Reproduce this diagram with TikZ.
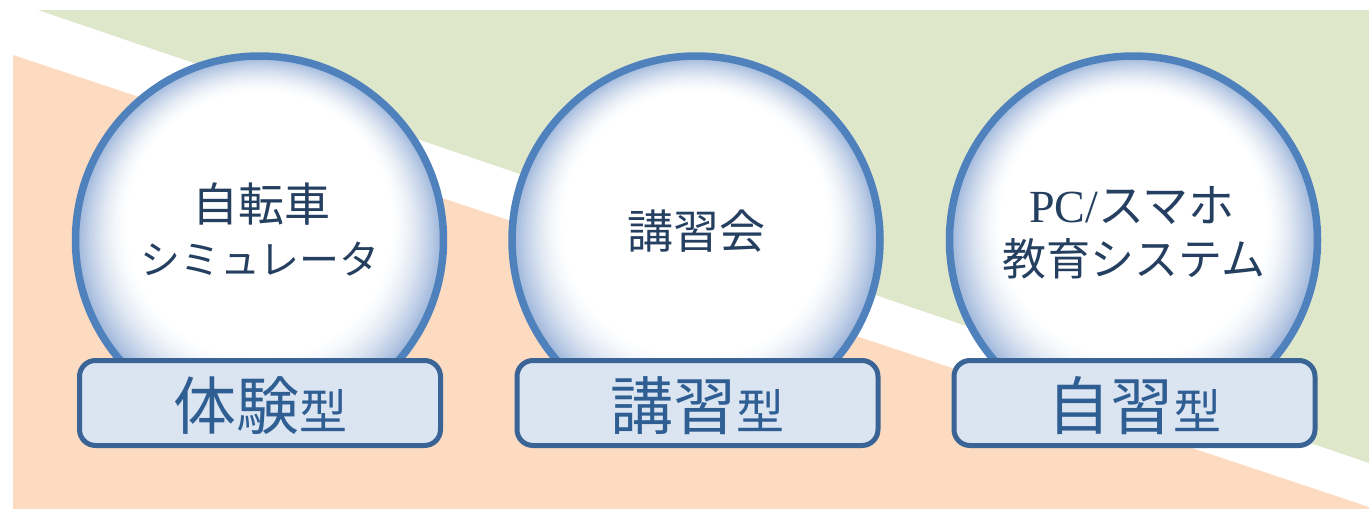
\documentclass[tikz,border=0pt]{standalone}
\usepackage{fontspec}
\setmainfont{Liberation Serif}
\newfontfamily\jp{Noto Sans CJK JP}
\definecolor{bggreen}{HTML}{DFE7CB}
\definecolor{bgorange}{HTML}{FCDBC0}
\definecolor{ringblue}{HTML}{4F81BD}
\definecolor{ringin}{HTML}{9AB3D9}
\definecolor{boxline}{HTML}{3A6496}
\definecolor{boxfill}{HTML}{DBE4F1}
\definecolor{navy}{HTML}{243F60}
\definecolor{labelblue}{HTML}{2F5E93}
\begin{document}
\begin{tikzpicture}[x=1pt,y=-1pt,
  ball/.style={circle, draw=ringblue, line width=7.5pt, minimum size=368pt, inner sep=0pt},
  tag/.style={draw=boxline, line width=5pt, fill=boxfill, rounded corners=16pt, minimum width=361pt, minimum height=85pt, inner sep=0pt},
  balltext/.style={text=navy, font=\jp\fontsize{46}{55}\selectfont, align=center, inner sep=0pt},
  tagtext/.style={text=labelblue, font=\jp\fontsize{63}{64}\selectfont, inner sep=0pt}]
\useasboundingbox (0,0) rectangle (1369,509);
\fill[bggreen] (38,10) -- (1369,10) -- (1369,463) -- cycle;
\fill[bgorange] (13,55) -- (1369,507) -- (1369,509) -- (13,509) -- cycle;

% gradient fill inside the globes
\foreach \cx in {259.5,696,1133.5}{
  \foreach \k in {0,...,40}{
    \pgfmathsetmacro\tt{\k/40}
    \pgfmathsetmacro\rr{184-52*\tt}
    \pgfmathsetmacro\oo{-16*\tt}
    \pgfmathsetmacro\pp{100*(1-\tt)^1.6}
    \fill[ringin!\pp!white] (\cx,240+\oo) circle (\rr);
  }
}

\node[ball] (c1) at (259.5,240) {};
\node[ball] (c2) at (696,240) {};
\node[ball] (c3) at (1133.5,240) {};

\node[balltext] (t1a) at (261,204) {自転車};
\node[balltext, font=\jp\fontsize{40}{42}\selectfont] (t1b) at (260,259) {シミュレータ};
\node[balltext] (t2) at (696,231) {講習会};
\node[balltext] (t3a) at (1132,205) {{\rmfamily PC/}スマホ};
\node[balltext, font=\jp\fontsize{44}{46}\selectfont] (t3b) at (1134,259) {教育システム};

\node[tag] (b1) at (260,403) {};
\node[tag] (b2) at (697.5,403) {};
\node[tag] (b3) at (1134.5,403) {};

\node[tagtext] (l1) at (260,406) {体験{\fontsize{48}{50}\selectfont 型}};
\node[tagtext] (l2) at (697.5,406) {講習{\fontsize{48}{50}\selectfont 型}};
\node[tagtext] (l3) at (1134.5,406) {自習{\fontsize{48}{50}\selectfont 型}};
\end{tikzpicture}
\end{document}
